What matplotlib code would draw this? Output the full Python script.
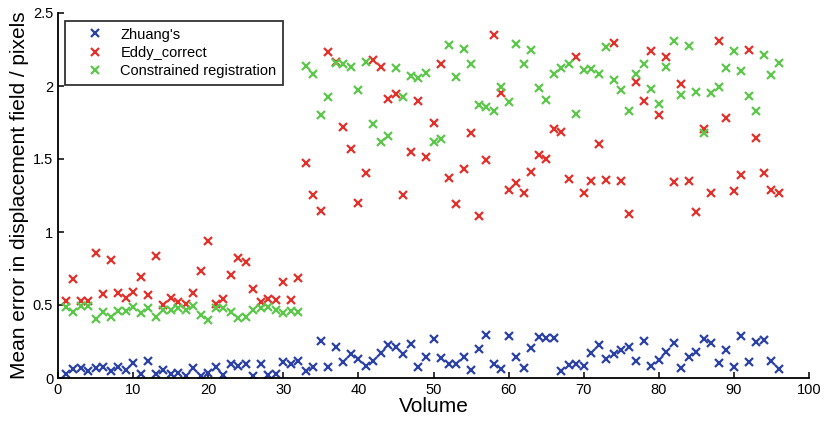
import numpy as np
import matplotlib.pyplot as plt

plt.rcParams['font.family'] = ['Liberation Sans', 'DejaVu Sans']

volume = np.arange(1, 97)

zhuang = [0.027, 0.06, 0.07, 0.05, 0.066, 0.077, 0.05, 0.077, 0.052, 0.105,
          0.027, 0.116, 0.027, 0.055, 0.027, 0.036, 0.014, 0.07, 0.014, 0.032,
          0.077, 0.023, 0.096, 0.085, 0.096, 0.014, 0.096, 0.023, 0.027, 0.11,
          0.096, 0.114, 0.05, 0.073, 0.255, 0.077, 0.214, 0.107, 0.162, 0.128,
          0.082, 0.116, 0.169, 0.226, 0.214, 0.162, 0.231, 0.073, 0.146, 0.265,
          0.135, 0.094, 0.094, 0.146, 0.055, 0.201, 0.295, 0.096, 0.064, 0.29,
          0.146, 0.071, 0.208, 0.279, 0.272, 0.272, 0.05, 0.089, 0.096, 0.082,
          0.173, 0.226, 0.128, 0.162, 0.192, 0.21, 0.119, 0.255, 0.084, 0.123,
          0.178, 0.237, 0.071, 0.142, 0.176, 0.267, 0.237, 0.105, 0.192, 0.077,
          0.288, 0.107, 0.249, 0.26, 0.116, 0.062]

eddy = [0.53, 0.676, 0.53, 0.53, 0.854, 0.575, 0.808, 0.582, 0.546, 0.587,
        0.69, 0.568, 0.836, 0.498, 0.546, 0.52, 0.505, 0.58, 0.733, 0.94,
        0.507, 0.539, 0.703, 0.824, 0.792, 0.607, 0.523, 0.543, 0.534, 0.66,
        0.534, 0.685, 1.47, 1.253, 1.146, 2.233, 2.164, 1.717, 1.566, 1.199,
        1.402, 2.178, 2.132, 1.911, 1.945, 1.251, 1.546, 1.90, 1.514, 1.744,
        2.151, 1.372, 1.194, 1.434, 1.678, 1.107, 1.493, 2.347, 1.954, 1.288,
        1.333, 1.265, 1.413, 1.527, 1.502, 1.703, 1.683, 1.361, 2.196, 1.27,
        1.349, 1.60, 1.356, 2.295, 1.349, 1.125, 2.025, 1.90, 2.237, 1.799,
        2.199, 1.345, 2.011, 1.349, 1.137, 1.703, 1.267, 2.308, 1.781, 1.281,
        1.388, 2.249, 1.642, 1.404, 1.29, 1.265]

constrained = [0.484, 0.452, 0.49, 0.49, 0.404, 0.452, 0.415, 0.461, 0.461, 0.484,
               0.443, 0.477, 0.42, 0.466, 0.466, 0.48, 0.466, 0.49, 0.434, 0.397,
               0.477, 0.48, 0.45, 0.409, 0.42, 0.466, 0.477, 0.484, 0.466, 0.447,
               0.461, 0.452, 2.137, 2.084, 1.80, 1.927, 2.155, 2.148, 2.132, 1.973,
               2.167, 1.74, 1.619, 1.658, 2.121, 1.922, 2.068, 2.053, 2.089, 1.614,
               1.637, 2.281, 2.062, 2.251, 2.148, 1.87, 1.858, 1.829, 1.991, 1.888,
               2.288, 2.153, 2.247, 1.984, 1.902, 2.08, 2.126, 2.151, 1.81, 2.11,
               2.114, 2.08, 2.269, 2.041, 1.975, 1.826, 2.082, 2.148, 1.977, 1.875,
               2.13, 2.31, 1.938, 2.274, 1.957, 1.676, 1.95, 1.991, 2.121, 2.242,
               2.103, 1.929, 1.831, 2.21, 2.075, 2.155]

fig = plt.figure(figsize=(8.25, 4.22), dpi=100)
ax = fig.add_axes([58 / 825, 1 - 378 / 422, 751 / 825, 365 / 422])

# 三组散点
ax.plot(volume, zhuang, 'x', color='#2b41a6', ms=5.5, mew=1.6, label="Zhuang's")
ax.plot(volume, eddy, 'x', color='#e2312a', ms=5.5, mew=1.6, label='Eddy_correct')
ax.plot(volume, constrained, 'x', color='#5cc84a', ms=5.5, mew=1.6,
        label='Constrained registration')

ax.set_xlim(0, 100)
ax.set_ylim(0, 2.5)
ax.set_xticks(np.arange(0, 101, 10))
ax.set_yticks([0, 0.5, 1, 1.5, 2, 2.5])
ax.set_yticklabels(['0', '0.5', '1', '1.5', '2', '2.5'])
ax.spines['top'].set_visible(False)
ax.spines['right'].set_visible(False)
ax.spines['left'].set_linewidth(1.3)
ax.spines['bottom'].set_linewidth(1.3)
ax.tick_params(direction='in', length=4, width=1.1, labelsize=10.5)
ax.set_xlabel('Volume', fontsize=15, labelpad=0)
ax.set_ylabel('Mean error in displacement field / pixels', fontsize=15, labelpad=3)

leg = ax.legend(loc='upper left', bbox_to_anchor=(7 / 751, 357 / 365),
                borderaxespad=0, fontsize=10.5, frameon=True, fancybox=False,
                handletextpad=0.2, borderpad=0.45, labelspacing=0.3,
                handlelength=3.15)
leg.get_frame().set_edgecolor('black')
leg.get_frame().set_linewidth(1.3)

fig.savefig('out.png', dpi=100)
